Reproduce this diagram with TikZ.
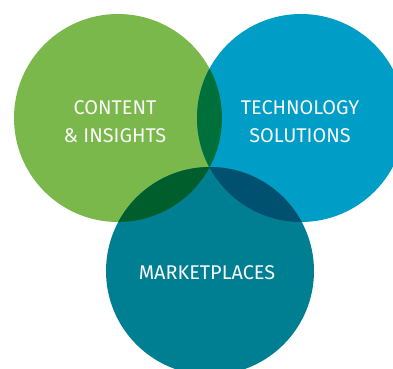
\documentclass[tikz,border=0pt]{standalone}
\usepackage{fontspec}
\setmainfont{Fira Sans}
\definecolor{contentgreen}{RGB}{122,184,75}
\definecolor{techblue}{RGB}{0,157,199}
\definecolor{marketteal}{RGB}{0,127,146}
\definecolor{greenblue}{RGB}{0,112,58}
\definecolor{greenteal}{RGB}{0,94,44}
\definecolor{blueteal}{RGB}{0,80,112}
\tikzset{
  label/.style={text=white!95!gray, align=center, font=\fontsize{14.9}{21}\selectfont}
}

\begin{document}
\begin{tikzpicture}[x=0.75pt, y=0.75pt]
    \useasboundingbox (0,0) rectangle (393,368);
    \clip (0,0) rectangle (393,368);

    \fill[contentgreen] (118,250) circle[radius=104];
    \fill[techblue] (301,250) circle[radius=104];
    \fill[marketteal] (210,97) circle[radius=104];

    % overlaps
    \begin{scope}
      \clip (118,250) circle[radius=104];
      \fill[greenblue] (301,250) circle[radius=104];
      \fill[greenteal] (210,97) circle[radius=104];
    \end{scope}
    \begin{scope}
      \clip (301,250) circle[radius=104];
      \fill[blueteal] (210,97) circle[radius=104];
    \end{scope}

    \node[label] (content) at (115,246) {CONTENT\\\& INSIGHTS};
    \node[label] (tech) at (300,246) {TECHNOLOGY\\SOLUTIONS};
    \node[label] (market) at (207,95) {MARKETPLACES};
\end{tikzpicture}
\end{document}
